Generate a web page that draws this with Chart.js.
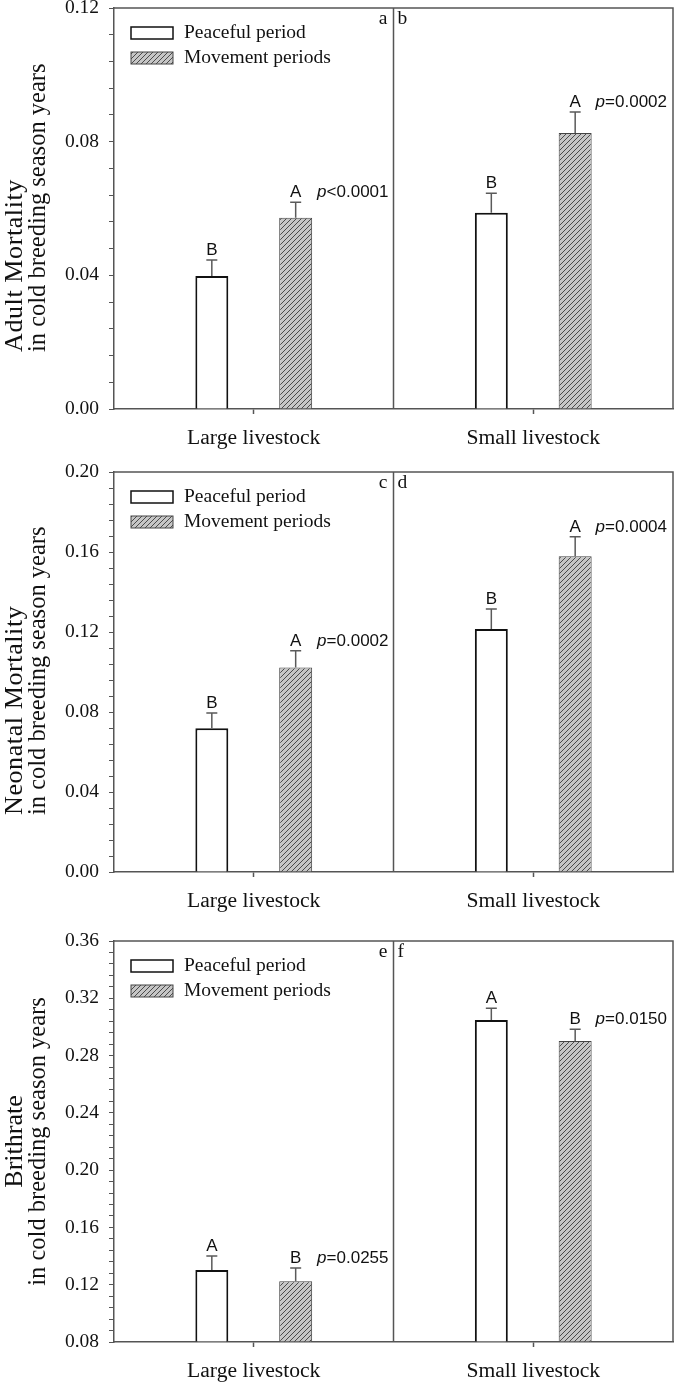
<!DOCTYPE html>
<html>
<head>
<meta charset="utf-8">
<script src="https://cdn.jsdelivr.net/npm/chart.js@4.4.1/dist/chart.umd.min.js"></script>
<style>
  body { margin: 0; background: #fff; }
  canvas { display: block; }
</style>
</head>
<body>
<canvas id="adultChart" width="675" height="463"></canvas>
<canvas id="neonatalChart" width="675" height="463"></canvas>
<canvas id="birthChart" width="675" height="461"></canvas>
<script>
// categories and series
const categories = ["Large livestock", "Small livestock"];
const seriesNames = ["Peaceful period", "Movement periods"];
const titleLine2 = "in cold breeding season years";

// panel a/b: adult mortality
const adultPeaceful = [0.0398, 0.0587];
const adultPeacefulErr = [0.0048, 0.0059];
const adultMovement = [0.0572, 0.0826];
const adultMovementErr = [0.0047, 0.0063];
const adultLetters = [["B", "B"], ["A", "A"]];
const adultP = ["<0.0001", "=0.0002"];
const adultTicks = [0.00, 0.12];

// panel c/d: neonatal mortality
const neoPeaceful = [0.0719, 0.1215];
const neoPeacefulErr = [0.0076, 0.0100];
const neoMovement = [0.1023, 0.1579];
const neoMovementErr = [0.0083, 0.0097];
const neoLetters = [["B", "B"], ["A", "A"]];
const neoP = ["=0.0002", "=0.0004"];
const neoTicks = [0.00, 0.20];

// panel e/f: birth rate
const birthPeaceful = [0.1303, 0.3048];
const birthPeacefulErr = [0.0098, 0.0082];
const birthMovement = [0.1224, 0.2901];
const birthMovementErr = [0.0093, 0.0082];
const birthLetters = [["A", "A"], ["B", "B"]];
const birthP = ["=0.0255", "=0.0150"];
const birthTicks = [0.08, 0.36];

const axisColor = "#555";
const textColor = "#111";
const serif = "'Liberation Serif', 'Times New Roman', serif";
const sans = "'Liberation Sans', Arial, sans-serif";

function makeHatch() {
    const tile = document.createElement("canvas");
    tile.width = 5; tile.height = 5;
    const g = tile.getContext("2d");
    g.fillStyle = "#c6c6c6";
    g.fillRect(0, 0, 5, 5);
    g.strokeStyle = "#3c3c3c";
    g.lineWidth = 0.9;
    g.beginPath();
    g.moveTo(0, 5); g.lineTo(5, 0);
    g.moveTo(-1, 1); g.lineTo(1, -1);
    g.moveTo(4, 6); g.lineTo(6, 4);
    g.stroke();
    return g.createPattern(tile, "repeat");
}
const hatch = makeHatch();

// frame, divider, error bars, letters, p values, legend, panel letters, y title
const panelDecor = {
    id: "panelDecor",
    afterDatasetsDraw(chart, args, opts) {
        const { ctx, chartArea: a, scales: { x, y } } = chart;
        const mid = (x.getPixelForValue(0) + x.getPixelForValue(1)) / 2;
        ctx.save();
        ctx.strokeStyle = axisColor;
        ctx.lineWidth = 1.5;
        ctx.beginPath();
        ctx.moveTo(a.left, a.top); ctx.lineTo(a.right, a.top); ctx.lineTo(a.right, a.bottom);
        ctx.moveTo(mid, a.top); ctx.lineTo(mid, a.bottom);
        ctx.stroke();

        const letterBase = [];
        chart.data.datasets.forEach((ds, di) => {
            chart.getDatasetMeta(di).data.forEach((bar, i) => {
                const yTop = y.getPixelForValue(ds.data[i] + ds.errors[i]);
                ctx.strokeStyle = "#5a5a5a";
                ctx.lineWidth = 1.5;
                ctx.beginPath();
                ctx.moveTo(bar.x, bar.y); ctx.lineTo(bar.x, yTop);
                ctx.moveTo(bar.x - 5.5, yTop); ctx.lineTo(bar.x + 5.5, yTop);
                ctx.stroke();
                ctx.fillStyle = textColor;
                ctx.font = "17px " + sans;
                ctx.textAlign = "center";
                ctx.textBaseline = "alphabetic";
                ctx.fillText(ds.letters[i], bar.x, yTop - 5);
                if (di === 1) letterBase[i] = yTop - 5;
            });
        });

        // p values, right aligned to each sub panel
        const rights = [mid - 5, a.right - 6];
        opts.pValues.forEach((txt, i) => {
            ctx.font = "17px " + sans;
            ctx.textAlign = "left";
            const w = ctx.measureText(txt).width;
            ctx.fillText(txt, rights[i] - w, letterBase[i]);
            ctx.font = "italic 17px " + sans;
            const pw = ctx.measureText("p").width;
            ctx.fillText("p", rights[i] - w - pw, letterBase[i]);
        });

        // legend
        chart.data.datasets.forEach((ds, di) => {
            const cy = a.top + 25 + di * 25;
            const bx = a.left + 17;
            ctx.fillStyle = ds.backgroundColor;
            ctx.fillRect(bx, cy - 6, 42, 12);
            ctx.strokeStyle = ds.borderColor;
            ctx.lineWidth = ds.borderWidth === 2 ? 1.5 : 1;
            ctx.strokeRect(bx, cy - 6, 42, 12);
            ctx.fillStyle = textColor;
            ctx.font = "19.5px " + serif;
            ctx.textAlign = "left";
            ctx.textBaseline = "middle";
            ctx.fillText(ds.label, a.left + 70, cy);
        });

        // panel letters
        ctx.font = "19.5px " + serif;
        ctx.textBaseline = "middle";
        ctx.textAlign = "right";
        ctx.fillText(opts.corner[0], mid - 6, a.top + 11);
        ctx.textAlign = "left";
        ctx.fillText(opts.corner[1], mid + 4, a.top + 11);

        // y axis title, two rotated lines
        const anchor = opts.titleAlign === "left" ? a.bottom - 57 : (a.top + a.bottom) / 2;
        ctx.textAlign = opts.titleAlign;
        [opts.title, titleLine2].forEach((line, li) => {
            ctx.save();
            ctx.font = (li === 0 ? "26px " : "24.5px ") + serif;
            ctx.letterSpacing = li === 0 ? opts.titleSpacing : "0px";
            ctx.translate(15 + li * 24, anchor);
            ctx.rotate(-Math.PI / 2);
            ctx.fillText(line, 0, 0);
            ctx.restore();
        });
        ctx.restore();
    }
};

function buildChart(canvasId, p) {
    const isMajor = v => Math.abs(v / 0.04 - Math.round(v / 0.04)) < 1e-6;
    const barStyle = { categoryPercentage: 0.6, barPercentage: 0.393, base: p.ticks[0] };
    return new Chart(document.getElementById(canvasId), {
        type: "bar",
        data: {
            labels: categories,
            datasets: [
                Object.assign({ label: seriesNames[0], data: p.peaceful, errors: p.peacefulErr, letters: p.letters[0],
                    backgroundColor: "#ffffff", borderColor: "#111", borderWidth: 2 }, barStyle),
                Object.assign({ label: seriesNames[1], data: p.movement, errors: p.movementErr, letters: p.letters[1],
                    backgroundColor: hatch, borderColor: "#444", borderWidth: 1 }, barStyle)
            ]
        },
        options: {
            responsive: false,
            animation: false,
            layout: { padding: { top: p.padTop, right: 2, left: 0, bottom: 0 } },
            plugins: {
                legend: { display: false },
                tooltip: { enabled: false },
                panelDecor: { pValues: p.pValues, corner: p.corner, title: p.title, titleAlign: p.titleAlign, titleSpacing: p.titleSpacing }
            },
            scales: {
                x: {
                    grid: { offset: false, drawOnChartArea: false, tickLength: 5, tickColor: axisColor, tickWidth: 1.5 },
                    border: { color: axisColor, width: 1.5 },
                    ticks: { color: textColor, padding: 11, font: { family: serif, size: 21.6 } },
                    afterFit: s => { s.height = p.axisHeight; s.paddingLeft = 0; s.paddingRight = 0; }
                },
                y: {
                    min: p.ticks[0],
                    max: p.ticks[1],
                    ticks: {
                        stepSize: 0.008,
                        autoSkip: false,
                        color: textColor,
                        padding: 10,
                        font: { family: serif, size: 19.5 },
                        callback: v => isMajor(v) ? v.toFixed(2) : ""
                    },
                    grid: { drawOnChartArea: false, tickLength: 5, tickColor: axisColor, tickWidth: 1 },
                    border: { color: axisColor, width: 1.5 },
                    afterFit: s => { s.width = 114; s.paddingTop = 0; s.paddingBottom = 0; }
                }
            }
        },
        plugins: [panelDecor]
    });
}

buildChart("adultChart", {
    title: "Adult Mortality", titleAlign: "left", titleSpacing: "0.6px", peaceful: adultPeaceful, peacefulErr: adultPeacefulErr,
    movement: adultMovement, movementErr: adultMovementErr, letters: adultLetters,
    pValues: adultP, ticks: adultTicks, corner: ["a", "b"], padTop: 8, axisHeight: 54
});
buildChart("neonatalChart", {
    title: "Neonatal Mortality", titleAlign: "left", titleSpacing: "0.6px", peaceful: neoPeaceful, peacefulErr: neoPeacefulErr,
    movement: neoMovement, movementErr: neoMovementErr, letters: neoLetters,
    pValues: neoP, ticks: neoTicks, corner: ["c", "d"], padTop: 9, axisHeight: 54
});
buildChart("birthChart", {
    title: "Brithrate", titleAlign: "center", titleSpacing: "0px", peaceful: birthPeaceful, peacefulErr: birthPeacefulErr,
    movement: birthMovement, movementErr: birthMovementErr, letters: birthLetters,
    pValues: birthP, ticks: birthTicks, corner: ["e", "f"], padTop: 15, axisHeight: 45
});
</script>
</body>
</html>
